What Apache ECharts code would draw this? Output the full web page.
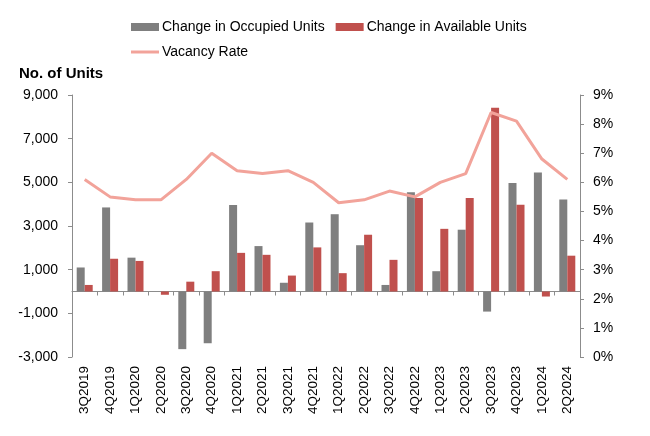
<!DOCTYPE html>
<html>
<head>
<meta charset="utf-8">
<script src="https://cdn.jsdelivr.net/npm/echarts@6/dist/echarts.min.js"></script>
<style>
html,body{margin:0;padding:0;background:#fff;}
#chart{width:650px;height:436px;}
</style>
</head>
<body>
<div id="chart"></div>
<script>
const categories = ['3Q2019','4Q2019','1Q2020','2Q2020','3Q2020','4Q2020','1Q2021','2Q2021','3Q2021','4Q2021','1Q2022','2Q2022','3Q2022','4Q2022','1Q2023','2Q2023','3Q2023','4Q2023','1Q2024','2Q2024'];
const occupied = [1100, 3850, 1550, 0, -2640, -2370, 3960, 2080, 400, 3160, 3540, 2120, 300, 4550, 930, 2830, -920, 4970, 5450, 4210];
const available = [300, 1500, 1400, -150, 450, 930, 1770, 1680, 730, 2020, 840, 2600, 1450, 4280, 2870, 4280, 8420, 3970, -230, 1640];
const vacancy = [6.1, 5.5, 5.4, 5.4, 6.1, 7.0, 6.4, 6.3, 6.4, 6.0, 5.3, 5.4, 5.7, 5.5, 6.0, 6.3, 8.4, 8.1, 6.8, 6.1];
const leftTicks = { min: -3000, max: 9000, interval: 2000 };
const rightTicks = { min: 0, max: 9, interval: 1 };

const font = 'Liberation Sans, Arial, sans-serif';
const chart = echarts.init(document.getElementById('chart'), null, { renderer: 'canvas' });
chart.setOption({
  animation: false,
  backgroundColor: '#ffffff',
  textStyle: { fontFamily: font },
  title: {
    text: 'No. of Units', left: 14, top: 61,
    textStyle: { fontFamily: font, fontSize: 15, fontWeight: 'bold', color: '#000' }
  },
  legend: [
    {
      data: ['Change in Occupied Units', 'Change in Available Units'],
      left: 126, top: 15, itemWidth: 28, itemHeight: 8, itemGap: 11,
      icon: 'rect',
      textStyle: { fontFamily: font, fontSize: 14, color: '#000', padding: [0, 0, 0, -2] }
    },
    {
      data: ['Vacancy Rate'],
      left: 126, top: 40, itemWidth: 28, itemHeight: 3,
      icon: 'rect',
      textStyle: { fontFamily: font, fontSize: 14, color: '#000', padding: [0, 0, 0, -2] }
    }
  ],
  grid: { left: 72, right: 70, top: 95, bottom: 79, containLabel: false },
  xAxis: [
    {
      type: 'category', data: categories, position: 'bottom',
      axisLine: { show: false, onZero: false }, axisTick: { show: false },
      axisLabel: { rotate: 90, fontFamily: font, fontSize: 13.5, color: '#000', margin: 9, interval: 0 }
    },
    {
      type: 'category', data: categories, position: 'bottom',
      axisLine: { show: true, onZero: true, onZeroAxisIndex: 0, lineStyle: { color: '#8c8c8c', width: 1 } },
      axisTick: { show: true, inside: false, length: 4, interval: 0, lineStyle: { color: '#8c8c8c' } },
      axisLabel: { show: false }
    }
  ],
  yAxis: [
    {
      type: 'value', min: leftTicks.min, max: leftTicks.max, interval: leftTicks.interval,
      position: 'left',
      axisLine: { show: true, lineStyle: { color: '#8c8c8c' } },
      axisTick: { show: true, length: 4, lineStyle: { color: '#8c8c8c' } },
      splitLine: { show: false },
      axisLabel: {
        fontFamily: font, fontSize: 14, color: '#000', margin: 14,
        formatter: v => v.toLocaleString('en-US')
      }
    },
    {
      type: 'value', min: rightTicks.min, max: rightTicks.max, interval: rightTicks.interval,
      position: 'right',
      axisLine: { show: true, lineStyle: { color: '#8c8c8c' } },
      axisTick: { show: true, length: 4, lineStyle: { color: '#8c8c8c' } },
      splitLine: { show: false },
      axisLabel: { fontFamily: font, fontSize: 14, color: '#000', margin: 13, formatter: '{value}%' }
    }
  ],
  series: [
    {
      name: 'Change in Occupied Units', type: 'bar', data: occupied,
      xAxisIndex: 0, yAxisIndex: 0, barWidth: 8, barGap: '0%',
      itemStyle: { color: '#7f7f7f' }, z: 2
    },
    {
      name: 'Change in Available Units', type: 'bar', data: available,
      xAxisIndex: 0, yAxisIndex: 0, barWidth: 8, barGap: '0%',
      itemStyle: { color: '#c0504d' }, z: 2
    },
    {
      name: 'Vacancy Rate', type: 'line', data: vacancy,
      xAxisIndex: 0, yAxisIndex: 1, symbol: 'none',
      lineStyle: { color: '#f2a39a', width: 3 }, itemStyle: { color: '#f2a39a' }, z: 5
    }
  ]
});
</script>
</body>
</html>
